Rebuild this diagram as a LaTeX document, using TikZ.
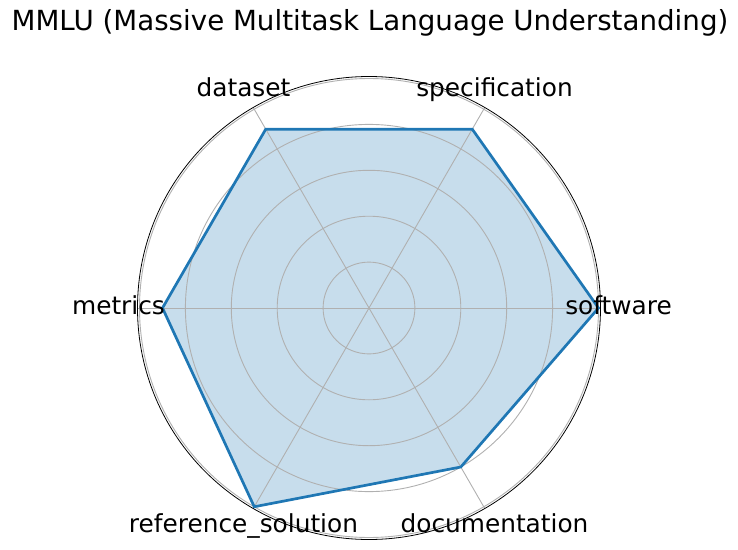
\documentclass[tikz,border=0pt]{standalone}
\usepackage{fontspec}
\setmainfont{DejaVu Sans}
\definecolor{mplblue}{HTML}{1F77B4}
\definecolor{gridgray}{HTML}{B0B0B0}
\usepackage{tikz}
\usetikzlibrary{positioning}

\begin{document}
\begin{tikzpicture}[
  x=1pt, y=1pt,
  grid/.style={draw=gridgray, line width=0.9pt},
  axlabel/.style={font=\fontsize{24.8}{29}\selectfont, anchor=base, inner sep=0pt},
]
\useasboundingbox (-369,-241) rectangle (369,308);

% filled area
\coordinate (sw) at (0:229.5);
\coordinate (spec) at (60:206.5);
\coordinate (data) at (120:206.5);
\coordinate (met) at (180:206.5);
\coordinate (ref) at (240:229.5);
\coordinate (doc) at (300:183.6);
\fill[mplblue!25] (sw) -- (spec) -- (data) -- (met) -- (ref) -- (doc) -- cycle;

% grid circles and spokes
\draw[grid] (0,0) circle (45.9);
\draw[grid] (0,0) circle (91.8);
\draw[grid] (0,0) circle (137.7);
\draw[grid] (0,0) circle (183.6);
\draw[grid] (0,0) circle (229.5);
\draw[grid] (0:231.5) -- (180:231.5);
\draw[grid] (60:231.5) -- (240:231.5);
\draw[grid] (120:231.5) -- (300:231.5);

% outline
\draw[mplblue, line width=2.7pt, line join=miter] (sw) -- (spec) -- (data) -- (met) -- (ref) -- (doc) -- cycle;
\draw[black, line width=0.8pt] (0,0) circle (231.5);

% axis labels
\node[axlabel] (lsw) at (249.5,-6.5) {software};
\node[axlabel] (lspec) at (125.5,211) {specification};
\node[axlabel] (ldata) at (-125.5,211) {dataset};
\node[axlabel] (lmet) at (-250.5,-6.5) {metrics};
\node[axlabel] (lref) at (-125.5,-224) {reference\_solution};
\node[axlabel] (ldoc) at (125.5,-224) {documentation};

% title
\node[font=\fontsize{27.7}{33}\selectfont, anchor=base, inner sep=0pt] (title) at (1,277)
     {MMLU (Massive Multitask Language Understanding)};
\end{tikzpicture}
\end{document}
